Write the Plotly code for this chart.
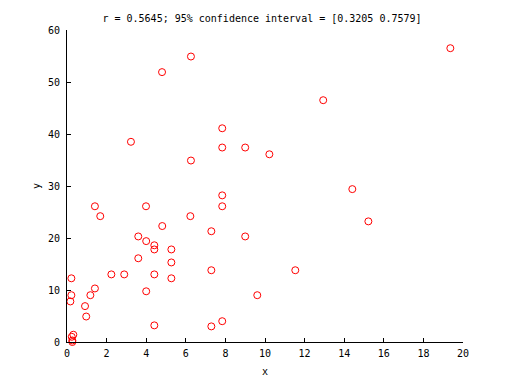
import plotly.graph_objects as go

x_vals = [1.41, 1.68, 3.99, 6.23, 4.81, 3.60, 4.00, 4.41, 4.41, 5.27,
          3.60, 5.27, 0.22, 2.24, 2.89, 4.41, 5.27, 1.41, 1.18, 0.22,
          0.17, 4.00, 0.91, 0.97, 4.41, 0.32, 0.24, 0.27, 0.27, 6.26,
          12.94, 7.84, 7.84, 9.00, 10.22, 6.26, 7.84, 7.84, 7.29, 9.00,
          7.29, 11.53, 9.61, 7.84, 7.29, 19.36, 14.41, 15.22, 4.80, 3.23]
y_vals = [26.1, 24.2, 26.1, 24.2, 22.3, 20.3, 19.4, 18.6, 17.8, 17.8,
          16.1, 15.3, 12.25, 13.0, 13.0, 13.0, 12.25, 10.3, 9.0, 9.0,
          7.8, 9.75, 6.9, 4.9, 3.2, 1.4, 1.0, 0.3, 0.0, 54.9,
          46.5, 41.1, 37.4, 37.4, 36.1, 34.9, 28.2, 26.1, 21.3, 20.3,
          13.8, 13.8, 9.0, 4.0, 3.0, 56.5, 29.4, 23.2, 51.9, 38.5]

title_text = "r = 0.5645; 95% confidence interval = [0.3205 0.7579]"
x_ticks = list(range(0, 21, 2))
y_ticks = list(range(0, 61, 10))

fig = go.Figure(go.Scatter(
    x=x_vals, y=y_vals, mode="markers", cliponaxis=False,
    marker=dict(symbol="circle-open", size=7, color="red", line=dict(width=1, color="red")),
))

font = dict(family="DejaVu Sans Mono", size=10, color="black")
fig.update_layout(
    width=512, height=384,
    margin=dict(l=59, r=57, t=22, b=50),
    paper_bgcolor="white", plot_bgcolor="white",
    showlegend=False,
    font=font,
    title=dict(text=title_text, x=254/512, xanchor="center", y=1 - 10/384, yanchor="middle", font=font),
    xaxis=dict(range=[0, 20], tickvals=x_ticks, ticks="inside", ticklen=4, tickcolor="black",
               showline=True, linecolor="black", linewidth=1, showgrid=False, zeroline=False,
               ticklabelstandoff=2,
               title=dict(text="x", font=font, standoff=9), tickfont=font),
    yaxis=dict(range=[0, 60], tickvals=y_ticks, ticks="inside", ticklen=4, tickcolor="black",
               showline=True, linecolor="black", linewidth=1, showgrid=False, zeroline=False,
               ticklabelstandoff=4, tickfont=font),
    annotations=[dict(text="y", xref="paper", yref="paper", x=(28 - 59) / 396, y=0.5,
                      xanchor="center", yanchor="middle", textangle=-90, showarrow=False, font=font)],
)

fig.write_html("out.html")
